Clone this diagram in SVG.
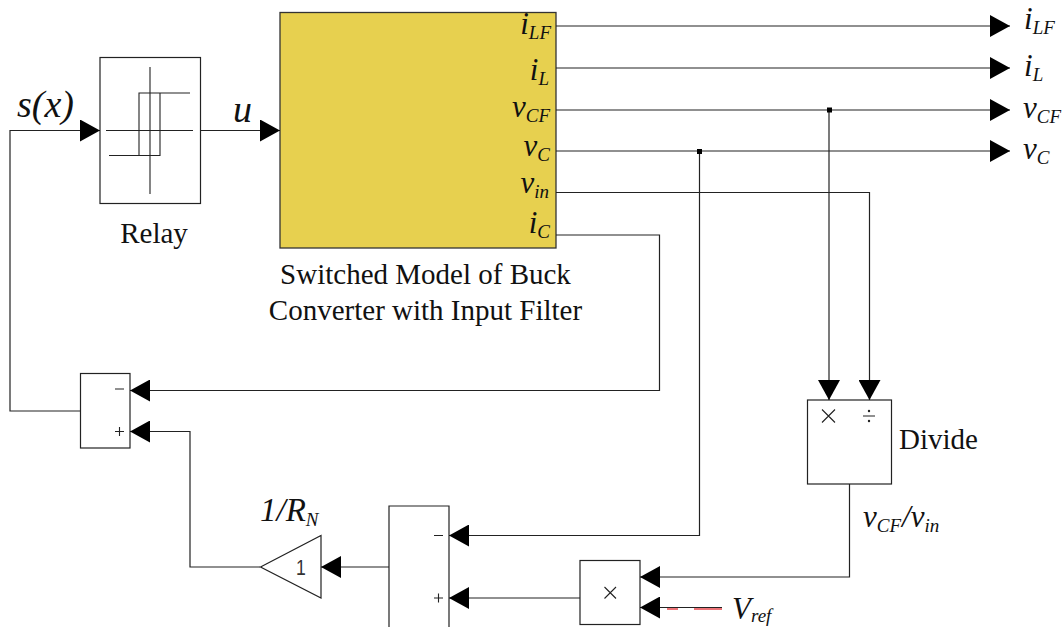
<svg xmlns="http://www.w3.org/2000/svg" width="1062" height="627" viewBox="0 0 1062 627">
<style>
text{font-family:"Liberation Serif","Times New Roman",serif;fill:#111}
.i{font-style:italic}
.p{font-size:31px}
.s{font-size:19px}
.t{font-size:29px}
.sans{font-family:"Liberation Sans",Arial,sans-serif;fill:#333}
.b{fill:#fff;stroke:#222;stroke-width:1.2}
.g{fill:none;stroke:#222;stroke-width:1.1}
#connectors path{fill:none;stroke:#222;stroke-width:1.2}
</style>
<defs>
<marker id="a" markerUnits="userSpaceOnUse" markerWidth="20" markerHeight="22" refX="20" refY="11" orient="auto"><path d="M0 0L20 11L0 22Z" fill="#000"/></marker>
</defs>
<rect width="1062" height="627" fill="#fff"/>
<g id="relay">
<rect class="b" x="100" y="57.500" width="100.500" height="146"/>
<path class="g" d="M106 130.500H193M150 67V194M109 155.500H160V93M190 93H139V155.500"/>
<text class="t" x="154" y="243" text-anchor="middle">Relay</text>
</g>
<g id="model">
<rect x="280" y="12.500" width="276" height="235.500" fill="#E7D04F" stroke="#333" stroke-width="1.300"/>
<text class="i p" text-anchor="end" x="551" y="34">i<tspan class="s" dy="5">LF</tspan></text>
<text class="i p" text-anchor="end" x="549" y="80">i<tspan class="s" dy="5">L</tspan></text>
<text class="i p" text-anchor="end" x="550" y="117">v<tspan class="s" dy="5">CF</tspan></text>
<text class="i p" text-anchor="end" x="550" y="156">v<tspan class="s" dy="5">C</tspan></text>
<text class="i p" text-anchor="end" x="549" y="193">v<tspan class="s" dy="5">in</tspan></text>
<text class="i p" text-anchor="end" x="550" y="233">i<tspan class="s" dy="5">C</tspan></text>
<text class="t" x="425.500" y="284" text-anchor="middle">Switched Model of Buck</text>
<text class="t" x="425.500" y="320" text-anchor="middle">Converter with Input Filter</text>
</g>
<g id="sum1">
<rect class="b" x="80.500" y="373.500" width="49.500" height="74.500"/>
<path class="g" d="M115 389H124M115 431.500H124M119.500 427V436"/>
</g>
<g id="gain">
<path class="b" d="M260.500 567L321 535.500V598Z"/>
<text class="sans" x="301" y="575" text-anchor="middle" font-size="22" transform="translate(301 0) scale(.8 1) translate(-301 0)">1</text>
<text class="i" x="260" y="521" font-size="33">1/R<tspan class="s" dy="5">N</tspan></text>
</g>
<g id="sum2">
<path class="b" d="M389 627V506H449V627"/>
<path class="g" d="M434 535.500H443M434 598H443M438.500 593.500V602.500"/>
</g>
<g id="product">
<rect class="b" x="580" y="560.500" width="60" height="64"/>
<path class="g" d="M604.500 587L616 598.500M616 587L604.500 598.500"/>
</g>
<g id="divide">
<rect class="b" x="807.500" y="400" width="84" height="84"/>
<path class="g" d="M822 409.500L835 422.500M835 409.500L822 422.500M863 416H875"/>
<circle cx="869" cy="411" r="1.200" fill="#222"/><circle cx="869" cy="421" r="1.200" fill="#222"/>
<text class="t" x="899" y="449">Divide</text>
</g>
<g id="connectors">
<path d="M80 411H10V130.500H100" marker-end="url(#a)"/>
<path d="M200.500 130.500H280" marker-end="url(#a)"/>
<path d="M556 26H1010" marker-end="url(#a)"/>
<path d="M556 68H1010" marker-end="url(#a)"/>
<path d="M556 110H1010" marker-end="url(#a)"/>
<path d="M556 151H1010" marker-end="url(#a)"/>
<path d="M829 110V400" marker-end="url(#a)"/>
<path d="M556 192.500H869.500V400" marker-end="url(#a)"/>
<path d="M556 235H659.500V390.500H130" marker-end="url(#a)"/>
<path d="M699.500 151V535.500H449" marker-end="url(#a)"/>
<path d="M849.500 484V577H640" marker-end="url(#a)"/>
<path d="M580 598H449" marker-end="url(#a)"/>
<path d="M722 607.500H640" marker-end="url(#a)"/>
<path d="M389 567H321" marker-end="url(#a)"/>
<path d="M260 567H190V431.500H130" marker-end="url(#a)"/>
<path d="M667 609H678M694 609H722" style="stroke:#E8474C;stroke-width:1.500"/>
<rect x="827" y="107.500" width="5" height="5" fill="#000"/>
<rect x="697" y="149" width="5" height="5" fill="#000"/>
</g>
<g id="labels">
<text class="i" x="17" y="117" font-size="38">s(x)</text>
<text class="i" x="233" y="122" font-size="38">u</text>
<text class="i p" x="1024" y="29">i<tspan class="s" dy="5">LF</tspan></text>
<text class="i p" x="1024" y="76">i<tspan class="s" dy="5">L</tspan></text>
<text class="i p" x="1023" y="118">v<tspan class="s" dy="5">CF</tspan></text>
<text class="i p" x="1023" y="159">v<tspan class="s" dy="5">C</tspan></text>
<text class="i p" x="863" y="527">v<tspan class="s" dy="5">CF</tspan><tspan dy="-5" dx="1">/v</tspan><tspan class="s" dy="5">in</tspan></text>
<text class="i p" x="732" y="619">V<tspan class="s" dy="3">ref</tspan></text>
</g>
</svg>
